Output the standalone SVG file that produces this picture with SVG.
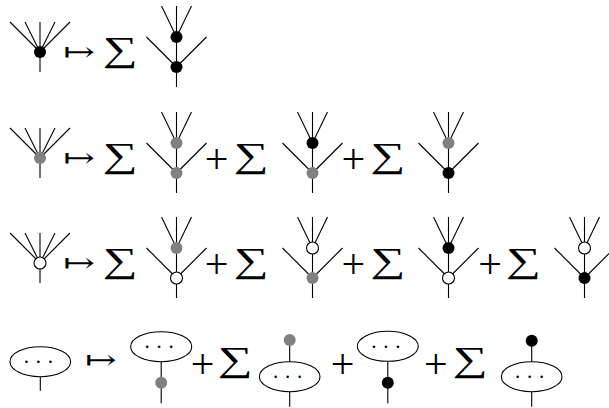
<svg xmlns="http://www.w3.org/2000/svg" width="609" height="408" viewBox="0 0 609 408">
<style>
.e{stroke:#000;stroke-width:1.1;fill:none}
.b{fill:#000}
.g{fill:#808080}
.w{fill:#fff;stroke:#000;stroke-width:1.1}
.sum{font-family:"Liberation Serif",serif;font-size:35px}
.plus{font-family:"Liberation Serif",serif;font-size:42px;text-anchor:middle}
.map{font-family:"DejaVu Serif",serif;font-size:27px}
.dots{font-family:"Liberation Serif",serif;font-size:21px;text-anchor:middle}
</style>
<defs>
<path id="corolla" d="M10,22L40,52M25,22L40,52M40,22L40,52M55,22L40,52M70,22L40,52M40,52L40,72"/>
<path id="tree" d="M-15,6L0,37M0,6L0,37M15,6L0,37M0,37L0,87M-30,37L0,67M30,37L0,67"/>
</defs>
<g id="connectors" class="e">
<use href="#corolla"/>
<use href="#corolla" y="106"/>
<use href="#corolla" y="211"/>
<use href="#tree" x="176.5"/>
<use href="#tree" x="176.5" y="106"/>
<use href="#tree" x="312.5" y="106"/>
<use href="#tree" x="448.5" y="106"/>
<use href="#tree" x="176.5" y="211"/>
<use href="#tree" x="312.5" y="211"/>
<use href="#tree" x="448.5" y="211"/>
<use href="#tree" x="584.5" y="211"/>
<path d="M40.3,376.7V390.7M161.2,361.7V403.3M289.7,340V361.7M289.7,391.7V406.7M387.8,361.7V403.3M531.7,340.7V361.7M531.7,391.7V406.7"/>
</g>
<g id="row1">
<circle class="b" cx="40" cy="52" r="6"/>
<text class="map" transform="translate(63.1,60.9) scale(1.4,1)">↦</text>
<text class="sum" transform="translate(103,60.8) scale(1.4,1)">∑</text>
<circle class="b" cx="176.5" cy="37" r="6"/>
<circle class="b" cx="176.5" cy="67" r="6"/>
</g>
<g id="row2">
<circle class="g" cx="40" cy="158" r="6"/>
<text class="map" transform="translate(63.1,166.6) scale(1.4,1)">↦</text>
<text class="sum" transform="translate(103,166.8) scale(1.4,1)">∑</text>
<circle class="g" cx="176.5" cy="143" r="6"/>
<circle class="g" cx="176.5" cy="173" r="6"/>
<text class="plus" x="216.7" y="173">+</text>
<text class="sum" transform="translate(234,166.8) scale(1.4,1)">∑</text>
<circle class="b" cx="312.5" cy="143" r="6"/>
<circle class="g" cx="312.5" cy="173" r="6"/>
<text class="plus" x="353.3" y="173">+</text>
<text class="sum" transform="translate(370.7,166.8) scale(1.4,1)">∑</text>
<circle class="g" cx="448.5" cy="143" r="6"/>
<circle class="b" cx="448.5" cy="173" r="6"/>
</g>
<g id="row3">
<circle class="w" cx="40" cy="263" r="6"/>
<text class="map" transform="translate(63.1,271.6) scale(1.4,1)">↦</text>
<text class="sum" transform="translate(103,271.8) scale(1.4,1)">∑</text>
<circle class="g" cx="176.5" cy="248" r="6"/>
<circle class="w" cx="176.5" cy="278" r="6"/>
<text class="plus" x="216.7" y="278">+</text>
<text class="sum" transform="translate(234,271.8) scale(1.4,1)">∑</text>
<circle class="w" cx="312.5" cy="248" r="6"/>
<circle class="g" cx="312.5" cy="278" r="6"/>
<text class="plus" x="353.3" y="278">+</text>
<text class="sum" transform="translate(370.7,271.8) scale(1.4,1)">∑</text>
<circle class="b" cx="448.5" cy="248" r="6"/>
<circle class="w" cx="448.5" cy="278" r="6"/>
<text class="plus" x="490" y="278">+</text>
<text class="sum" transform="translate(506.3,271.8) scale(1.4,1)">∑</text>
<circle class="w" cx="584.5" cy="248" r="6"/>
<circle class="b" cx="584.5" cy="278" r="6"/>
</g>
<g id="row4">
<ellipse class="w" cx="40.3" cy="361.7" rx="30.3" ry="15"/>
<text class="dots" x="26.3 38.3 50.3" y="363">...</text>
<text class="map" transform="translate(84.8,368.9) scale(1.4,1)">↦</text>
<ellipse class="w" cx="161.2" cy="346.7" rx="30.5" ry="15"/>
<text class="dots" x="147.2 159.2 171.2" y="348">...</text>
<circle class="g" cx="161.2" cy="382.7" r="6"/>
<text class="plus" x="202.5" y="378">+</text>
<text class="sum" transform="translate(218,371.1) scale(1.4,1)">∑</text>
<circle class="g" cx="289.7" cy="340" r="6"/>
<ellipse class="w" cx="289.7" cy="376.7" rx="30.3" ry="15"/>
<text class="dots" x="275.7 287.7 299.7" y="378">...</text>
<text class="plus" x="342.5" y="378">+</text>
<ellipse class="w" cx="387.8" cy="346.3" rx="30.5" ry="15"/>
<text class="dots" x="373.8 385.8 397.8" y="347.6">...</text>
<circle class="b" cx="387.8" cy="382.7" r="6"/>
<text class="plus" x="435.8" y="378">+</text>
<text class="sum" transform="translate(453,371.1) scale(1.4,1)">∑</text>
<circle class="b" cx="531.7" cy="340.7" r="6"/>
<ellipse class="w" cx="531.7" cy="376.7" rx="30.3" ry="15"/>
<text class="dots" x="517.7 529.7 541.7" y="378">...</text>
</g>
</svg>
